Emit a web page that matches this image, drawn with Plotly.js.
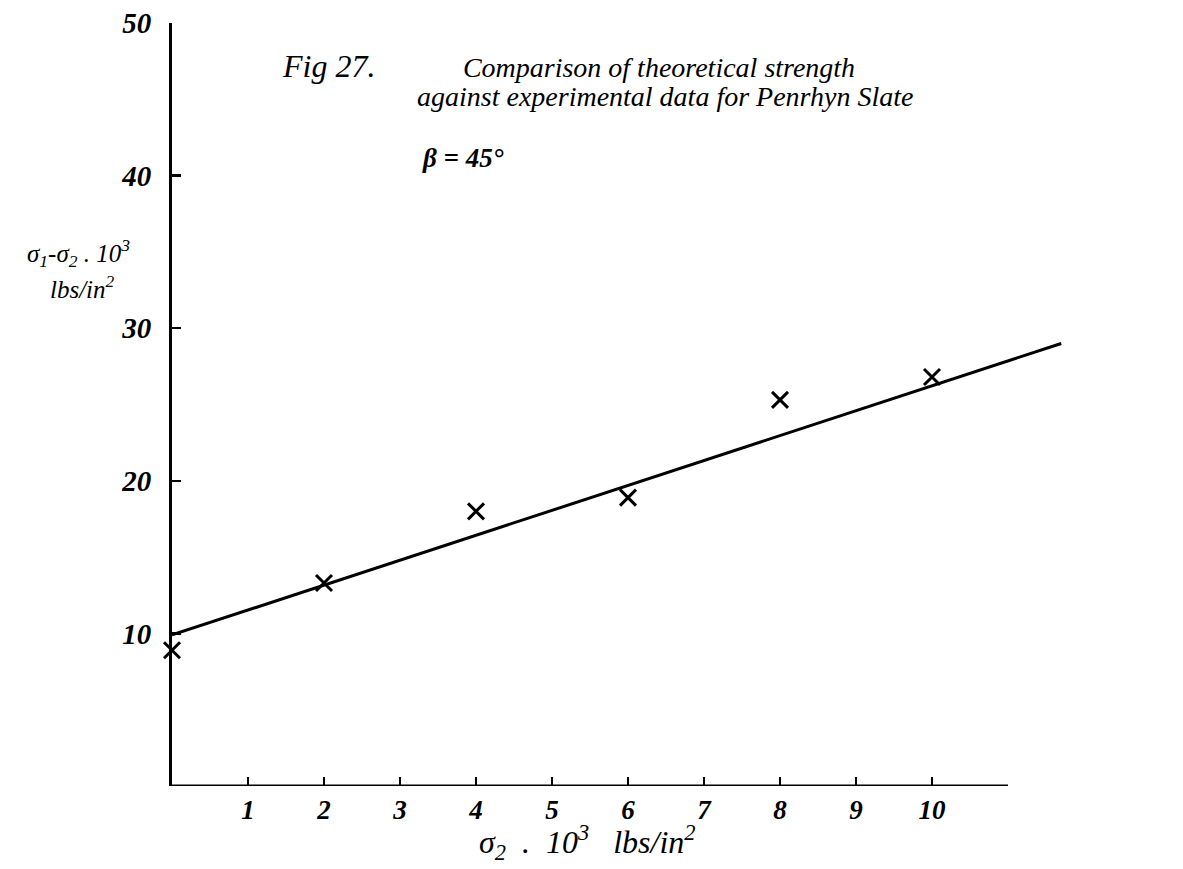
<!DOCTYPE html>
<html>
<head>
<meta charset="utf-8">
<script src="https://cdn.plot.ly/plotly-3.0.1.min.js"></script>
<style>
html,body{margin:0;padding:0;background:#fff;}
#chart{width:1183px;height:869px;}
</style>
</head>
<body>
<div id="chart"></div>
<script>
// Experimental data (sigma2 in 10^3 lbs/in^2, sigma1 - sigma2 in 10^3 lbs/in^2)
const sigma2 = [0, 2, 4, 6, 8, 10];
const strengthDiff = [8.9, 13.3, 18.0, 18.9, 25.3, 26.8];
// Theoretical strength line (end points)
const theoryX = [0, 11.7];
const theoryY = [9.9, 29.0];
// Tick labels
const xTicks = [1, 2, 3, 4, 5, 6, 7, 8, 9, 10];
const xTickText = ['1', '2', '3', '4', '5', '6', '7', '8', '9', '10'];
const yTicks = [10, 20, 30, 40, 50];
const yTickText = ['10', '20', '30', '40', '50'];
const xAxisEnd = 11;

const hand = {family: 'Liberation Serif, DejaVu Serif, serif', color: '#000'};
function f(o) { return Object.assign({}, hand, o); }

const traces = [
  {
    x: theoryX, y: theoryY, mode: 'lines', type: 'scatter',
    line: {color: '#000', width: 3}, showlegend: false, hoverinfo: 'skip'
  },
  {
    x: sigma2, y: strengthDiff, mode: 'markers', type: 'scatter',
    marker: {symbol: 'x-thin', size: 16, color: '#000', line: {color: '#000', width: 3}},
    showlegend: false, cliponaxis: false
  }
];

const layout = {
  width: 1183, height: 869,
  paper_bgcolor: '#fff', plot_bgcolor: '#fff',
  margin: {l: 172, r: 99, t: 23, b: 83},
  showlegend: false,
  xaxis: {
    range: [0, 12], showgrid: false, zeroline: false, showline: false,
    tickvals: xTicks, ticktext: xTickText,
    ticks: 'inside', ticklen: 9, tickwidth: 2.5, tickcolor: '#000',
    ticklabelstandoff: 5,
    tickfont: f({size: 27, style: 'italic', weight: 'bold'})
  },
  yaxis: {
    range: [0, 50], showgrid: false, zeroline: false,
    showline: true, linecolor: '#000', linewidth: 3,
    tickvals: yTicks, ticktext: yTickText,
    ticks: 'inside', ticklen: 9, tickwidth: 2.5, tickcolor: '#000',
    ticklabelstandoff: 12,
    tickfont: f({size: 29, style: 'italic', weight: 'bold'})
  },
  title: {
    text: 'Comparison of theoretical strength',
    xref: 'paper', x: 0.534, xanchor: 'center',
    yref: 'container', y: 1 - 67 / 869, yanchor: 'middle',
    font: f({size: 28, style: 'italic'})
  },
  shapes: [
    {type: 'line', xref: 'x', yref: 'y', x0: 0, x1: xAxisEnd, y0: 0, y1: 0,
     line: {color: '#000', width: 3}}
  ],
  annotations: [
    {text: 'against experimental data for Penrhyn Slate', xref: 'paper', yref: 'paper',
     x: (665 - 172) / 912, y: (786 - 97) / 763,
     xanchor: 'center', yanchor: 'middle', showarrow: false,
     font: f({size: 28, style: 'italic'})},
    {text: 'Fig 27.', xref: 'paper', yref: 'paper', x: (280 - 172) / 912, y: (786 - 66) / 763,
     xanchor: 'left', yanchor: 'middle', showarrow: false,
     font: f({size: 32, style: 'italic'})},
    {text: 'β = 45°', xref: 'paper', yref: 'paper', x: (420 - 172) / 912, y: (786 - 158) / 763,
     xanchor: 'left', yanchor: 'middle', showarrow: false,
     font: f({size: 27, style: 'italic', weight: 'bold'})},
    {text: 'σ<sub>1</sub>-σ<sub>2</sub> . 10<sup>3</sup>',
     xref: 'paper', yref: 'paper', x: (78 - 172) / 912, y: (786 - 253) / 763,
     xanchor: 'center', yanchor: 'middle', showarrow: false,
     font: f({size: 25, style: 'italic'})},
    {text: 'lbs/in<sup>2</sup>',
     xref: 'paper', yref: 'paper', x: (82 - 172) / 912, y: (786 - 287) / 763,
     xanchor: 'center', yanchor: 'middle', showarrow: false,
     font: f({size: 25, style: 'italic'})},
    {text: 'σ<sub>2</sub>  .  10<sup>3</sup>   lbs/in<sup>2</sup>',
     xref: 'paper', yref: 'paper', x: (587 - 172) / 912, y: (786 - 842) / 763,
     xanchor: 'center', yanchor: 'middle', showarrow: false,
     font: f({size: 32, style: 'italic'})}
  ]
};

Plotly.newPlot('chart', traces, layout, {staticPlot: true, displayModeBar: false});
</script>
</body>
</html>
